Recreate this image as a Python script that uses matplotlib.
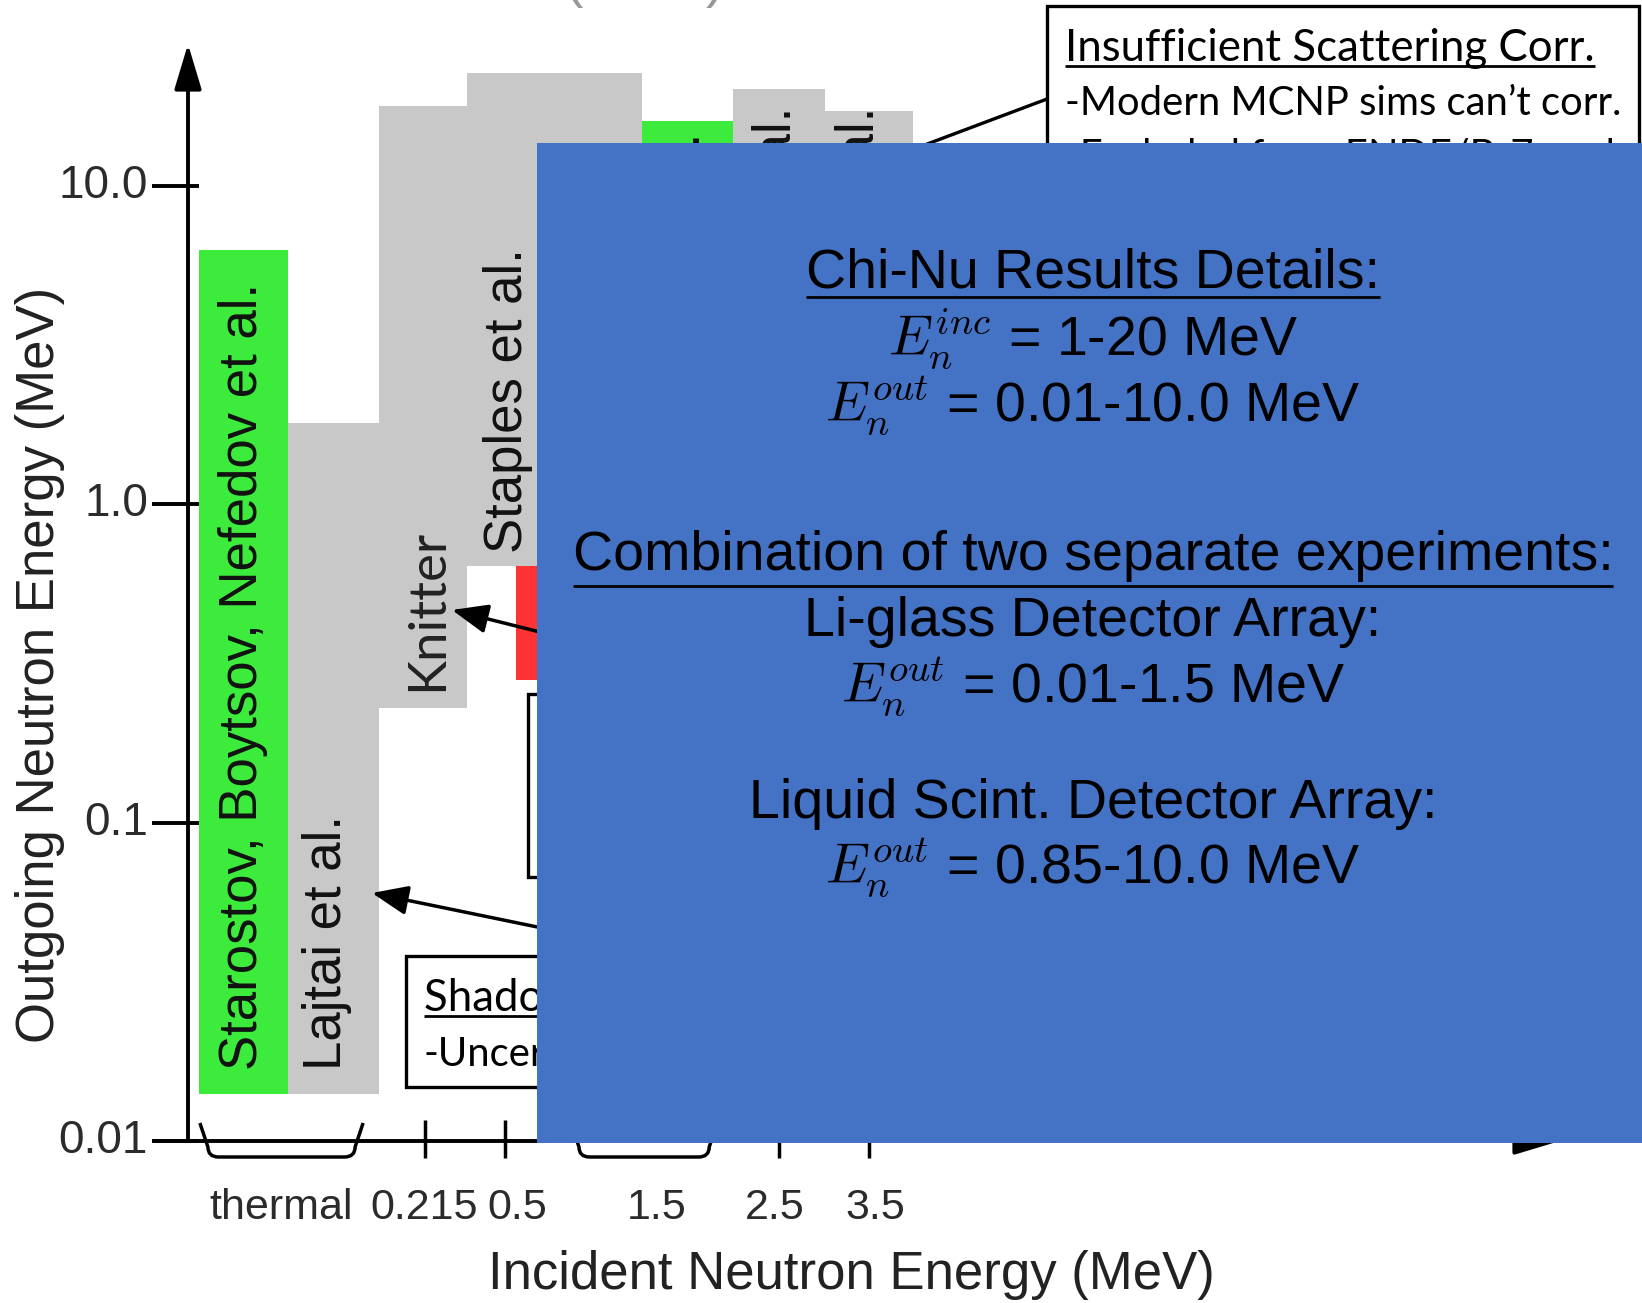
import matplotlib
matplotlib.use('Agg')
import matplotlib.pyplot as plt
from matplotlib.patches import Rectangle, PathPatch
from matplotlib.path import Path

plt.rcParams['font.family'] = ['Liberation Sans', 'DejaVu Sans']
plt.rcParams['mathtext.fontset'] = 'cm'

W, H = 1642, 1303

# outgoing-energy coverage of each measurement, placed in incident-energy slots
col_left = [0.0, 1.0, 2.02, 3.0, 3.55, 4.97, 5.99, 7.02]
col_right = [1.0, 2.02, 3.0, 4.97, 4.97, 5.99, 7.02, 8.0]
col_low = [0.014, 0.014, 0.23, 0.64, 0.28, 0.4, 0.5, 0.5]
col_high = [6.3, 1.8, 17.9, 22.6, 0.64, 16.0, 20.2, 17.2]
col_kind = ['good', 'other', 'other', 'other', 'chinu', 'good', 'other', 'other']

# study names written along the columns (x slot, start of text)
study_names = ['Starostov, Boytsov, Nefedov et al.', 'Lajtai et al.', 'Staples et al.']
study_x = [0.49, 1.43, 3.46]
study_y = [0.0167, 0.0167, 0.705]
knitter_x, knitter_y = 2.56, 0.26
# names whose ends stick out above the summary panel (x slot, end of text)
tail_x = [5.45, 6.47, 7.4]
tail_y = [14.7, 17.7, 17.7]

yticks = [0.01, 0.1, 1.0, 10.0]
ytick_labels = ['0.01', '0.1', '1.0', '10.0']
xtick_marks = [2.53, 3.43, 6.50, 7.51]
xtick_pos = [0.92, 2.52, 3.57, 5.13, 6.46, 7.58]
xtick_labels = ['thermal', '0.215', '0.5', '1.5', '2.5', '3.5']
braces = [(0.01, 1.84), (4.17, 5.81)]

colors = {'good': '#3DEB3D', 'other': '#C8C8C8', 'chinu': '#FF3333'}
BLUE = '#4472C4'

fig = plt.figure(figsize=(W / 100, H / 100), dpi=100)
ax = fig.add_axes([188 / W, (H - 1141) / H, 1372 / W, 1097 / H])
ax.set_yscale('log')
ax.set_ylim(0.01, 10 ** (1 + 142 / 318.3))
ax.set_xlim(-11 / 89.2, 1361 / 89.2)
ax.axis('off')

for l, r, lo, hi, k in zip(col_left, col_right, col_low, col_high, col_kind):
    ax.bar(l, hi - lo, width=r - l, bottom=lo, align='edge', color=colors[k], linewidth=0)

for name, x, y in zip(study_names, study_x, study_y):
    ax.text(x, y, name, rotation=90, ha='center', va='bottom', fontsize=38, color='#111111')
ax.text(knitter_x, knitter_y, 'Knitter', rotation=90, ha='center', va='bottom',
        fontsize=38, color='#222222', family='Lato')
for x, y in zip(tail_x, tail_y):
    ax.text(x, y, 'et al.', rotation=90, ha='center', va='top', fontsize=38, color='#111111')

# axes with arrow heads
arrow = dict(arrowstyle='-|>,head_length=1.4,head_width=0.42', mutation_scale=20,
             lw=2.8, color='black', shrinkA=0, shrinkB=0)
ax.annotate('', xy=(0, 1), xytext=(0, 0), xycoords='axes fraction', arrowprops=arrow)
ax.annotate('', xy=(1, 0), xytext=(-33 / 1372, 0), xycoords='axes fraction', arrowprops=arrow)

ytr = ax.get_yaxis_transform()
for yv, lab in zip(yticks, ytick_labels):
    ax.plot([-36 / 1372, 11 / 1372], [yv, yv], transform=ytr, color='black', lw=2.8,
            clip_on=False, solid_capstyle='butt')
    ax.text(-40 / 1372, yv, lab, transform=ytr, ha='right', va='center', fontsize=33,
            color='#2b2b2b')

xtr = ax.get_xaxis_transform()
for xv in xtick_marks:
    ax.plot([xv, xv], [21 / 1097, -17 / 1097], transform=xtr, color='black', lw=2.5,
            clip_on=False, solid_capstyle='butt')
for xv, lab in zip(xtick_pos, xtick_labels):
    ax.text(xv, -67 / 1097, lab, transform=xtr, ha='center', va='center', fontsize=31,
            color='#2b2b2b')

top, bot, ry, rx, s = 18 / 1097, -16 / 1097, 10 / 1097, 0.12, 0.09
for x0, x1 in braces:
    verts = [(x0, top), (x0 + s, bot + ry), (x0 + s, bot), (x0 + s + rx, bot),
             (x1 - s - rx, bot), (x1 - s, bot), (x1 - s, bot + ry), (x1, top)]
    codes = [Path.MOVETO, Path.LINETO, Path.CURVE3, Path.CURVE3,
             Path.LINETO, Path.CURVE3, Path.CURVE3, Path.LINETO]
    ax.add_patch(PathPatch(Path(verts, codes), transform=xtr, fill=False, lw=2.5,
                           edgecolor='black', clip_on=False))

fig.text(40 / W, 1 - 665 / H, 'Outgoing Neutron Energy (MeV)', rotation=90, ha='center',
         va='center', fontsize=38, color='#222222')
fig.text(851 / W, 1 - 1275 / H, 'Incident Neutron Energy (MeV)', ha='center', va='center',
         fontsize=38, color='#222222')

# slide annotations, laid out in pixels
ov = fig.add_axes([0, 0, 1, 1])
ov.set_xlim(0, W)
ov.set_ylim(H, 0)
ov.axis('off')
ov.set_zorder(5)

ov.text(574, -4, '(', fontsize=40, color='#999999', ha='center', va='baseline')
ov.text(715, -4, ')', fontsize=40, color='#999999', ha='center', va='baseline')

calibri = ['Lato', 'DejaVu Sans']
fs_head, fs_note = 31.5, 28.8
ov.add_patch(Rectangle((1047, 6), 592, 260, facecolor='white', edgecolor='black', lw=2.4, zorder=3))
ov.plot([1047, 890], [99, 158], color='black', lw=2.4, zorder=3)
t_ins = ov.text(1065, 61, 'Insufficient Scattering Corr.', fontsize=fs_head, family=calibri, zorder=4)
ov.text(1065, 115, '-Modern MCNP sims can\u2019t corr.', fontsize=fs_note, family=calibri, zorder=4)
ov.text(1065, 168, '-Excluded from ENDF/B-7 eval.', fontsize=fs_note, family=calibri, zorder=4)

ov.add_patch(Rectangle((528, 694), 200, 183, facecolor='white', edgecolor='black', lw=2.4, zorder=3))
ov.add_patch(Rectangle((406, 956), 300, 131, facecolor='white', edgecolor='black', lw=2.4, zorder=3))
t_sha = ov.text(424, 1011, 'Shadow Bar', fontsize=fs_head, family=calibri, zorder=4)
ov.text(424, 1066, '-Uncertainties', fontsize=fs_note, family=calibri, zorder=4)

pointer = dict(arrowstyle='-|>,head_length=1.1,head_width=0.45', mutation_scale=20,
               lw=2.5, color='black', shrinkA=0, shrinkB=0)
ov.annotate('', xy=(452, 610), xytext=(620, 652), arrowprops=pointer, zorder=4)
ov.annotate('', xy=(372, 893), xytext=(620, 944), arrowprops=pointer, zorder=4)

ov.add_patch(Rectangle((537, 143), 1120, 1000, facecolor=BLUE, edgecolor='none', zorder=10))
cx = 1093
t1 = ov.text(cx, 288, 'Chi-Nu Results Details:', fontsize=40, ha='center', va='baseline', zorder=11)
ov.text(cx, 355, '$E_n^{inc}$ = 1-20 MeV', fontsize=40, ha='center', va='baseline', zorder=11)
ov.text(cx, 422, '$E_n^{out}$ = 0.01-10.0 MeV', fontsize=40, ha='center', va='baseline', zorder=11)
t2 = ov.text(cx, 570, 'Combination of two separate experiments:', fontsize=40, ha='center',
             va='baseline', zorder=11)
ov.text(cx, 636, 'Li-glass Detector Array:', fontsize=40, ha='center', va='baseline', zorder=11)
ov.text(cx, 703, '$E_n^{out}$ = 0.01-1.5 MeV', fontsize=40, ha='center', va='baseline', zorder=11)
ov.text(cx, 818, 'Liquid Scint. Detector Array:', fontsize=40, ha='center', va='baseline', zorder=11)
ov.text(cx, 884, '$E_n^{out}$ = 0.85-10.0 MeV', fontsize=40, ha='center', va='baseline', zorder=11)

# underlines drawn from the rendered text extents
fig.canvas.draw()
for t, y, z in [(t1, 297, 11), (t2, 586, 11), (t_ins, 66, 4), (t_sha, 1016, 4)]:
    bb = t.get_window_extent()
    ov.plot([bb.x0, bb.x1], [y, y], color='black', lw=2.0, zorder=z, solid_capstyle='butt')

fig.savefig('out.png', dpi=100)
